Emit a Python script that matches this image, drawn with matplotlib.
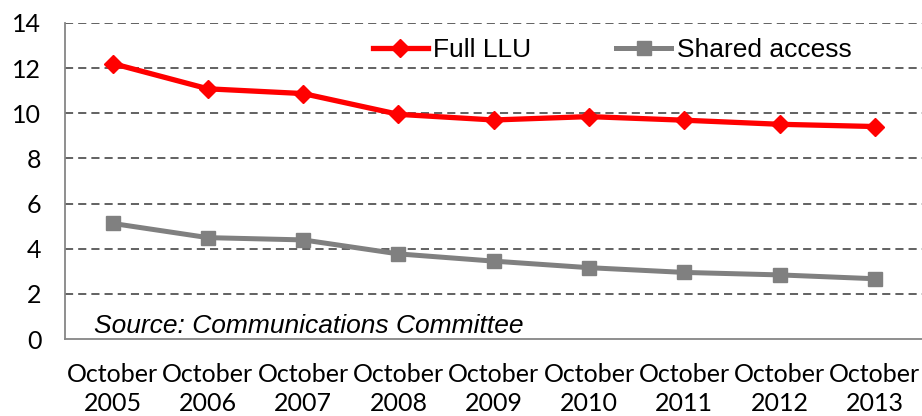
import matplotlib.pyplot as plt

# Valeurs par année (octobre)
annees = ['2005', '2006', '2007', '2008', '2009', '2010', '2011', '2012', '2013']
full_llu = [12.2, 11.08, 10.87, 9.95, 9.7, 9.85, 9.69, 9.51, 9.41]
shared_access = [5.12, 4.49, 4.39, 3.77, 3.45, 3.16, 2.95, 2.84, 2.67]

labels_x = [f'October\n{a}' for a in annees]
police_axes = ['Lato', 'DejaVu Sans']
police_texte = ['Liberation Sans', 'DejaVu Sans']

fig = plt.figure(figsize=(9.22, 4.16), dpi=100)
ax = fig.add_axes([0.0705, 0.185, 0.93, 0.76])

x = range(len(annees))
ax.plot(x, full_llu, color='#ff0000', lw=3.8, marker='D', ms=9.5,
        label='Full LLU', zorder=3)
ax.plot(x, shared_access, color='#808080', lw=3.6, marker='s', ms=10.5,
        label='Shared access', zorder=3)

ax.set_xlim(-0.5, len(annees) - 0.5)
ax.set_ylim(0, 14)
ax.set_yticks(range(0, 15, 2))

# Grille pointillée horizontale
for v in range(2, 15, 2):
    ax.axhline(v, color='#555555', lw=1.3, ls=(0, (4.5, 2.8)), zorder=1)

ax.set_xticks(list(x))
ax.set_xticklabels(labels_x, family=police_axes, fontsize=18, linespacing=1.35)
for lab in ax.get_yticklabels():
    lab.set_family(police_axes)
    lab.set_fontsize(18)
ax.tick_params(axis='both', length=0)
ax.tick_params(axis='x', pad=17)
ax.tick_params(axis='y', pad=17)

for cote in ['top', 'right']:
    ax.spines[cote].set_visible(False)
ax.spines['left'].set_color('#868686')
ax.spines['bottom'].set_color('#868686')
ax.spines['left'].set_linewidth(1.3)
ax.spines['bottom'].set_linewidth(1.3)

ax.legend(loc='center', bbox_to_anchor=(0.638, 0.915), ncol=2, frameon=False,
          prop={'family': police_texte, 'size': 19}, handlelength=2.1,
          handletextpad=0.2, columnspacing=3.2)

ax.text(0.034, 0.02, 'Source: Communications Committee', transform=ax.transAxes,
        family=police_texte, style='italic', fontsize=19, va='baseline')

fig.savefig('out.png', dpi=100)
